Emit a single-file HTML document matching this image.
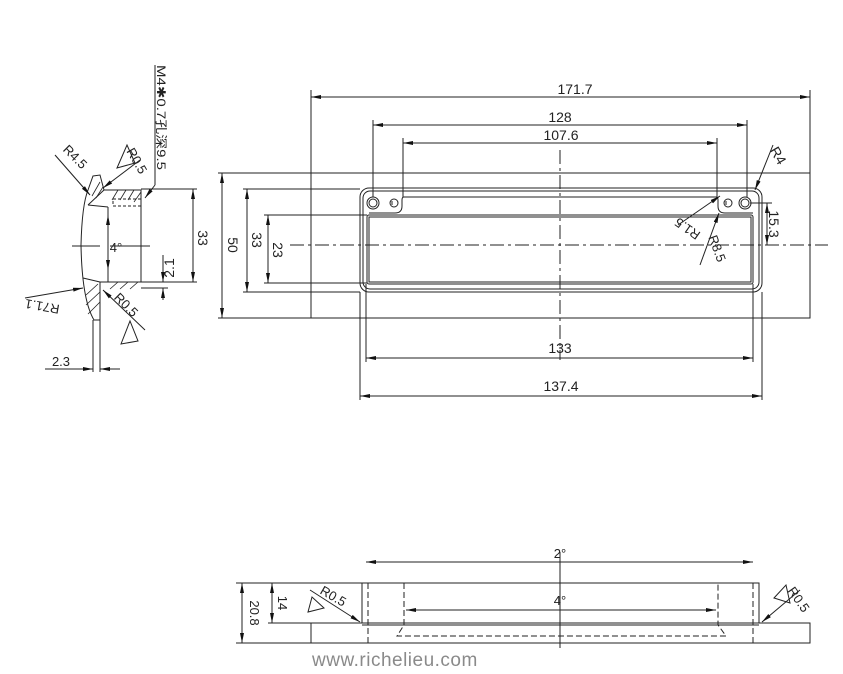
<!DOCTYPE html>
<html><head><meta charset="utf-8"><style>
html,body{margin:0;padding:0;background:#fff}
svg{display:block}
text{font-family:"Liberation Sans","Noto Sans CJK SC",sans-serif;fill:#222}
</style></head><body>
<svg width="843" height="674" viewBox="0 0 843 674" xmlns="http://www.w3.org/2000/svg">
<defs>
<marker id="a" viewBox="0 0 10 6" refX="10" refY="3" markerWidth="10" markerHeight="6" orient="auto-start-reverse" markerUnits="userSpaceOnUse"><path d="M0,1 L10,3 L0,5 z" fill="#111"/></marker>
</defs>
<g stroke="#222" stroke-width="1" fill="none">
<rect x="311" y="173" width="499" height="145"/>
<line x1="218" y1="173" x2="311" y2="173"/>
<line x1="218" y1="318" x2="311" y2="318"/>
<line x1="243" y1="189" x2="360" y2="189"/>
<line x1="243" y1="292" x2="360" y2="292"/>
<line x1="264" y1="215" x2="367" y2="215"/>
<line x1="264" y1="283" x2="367" y2="283"/>
<rect x="360" y="188" width="402" height="104" rx="9"/>
<rect x="363" y="191" width="396" height="98" rx="7"/>
<rect x="367" y="215" width="386" height="69" rx="2"/>
<rect x="369" y="217" width="382" height="65"/>
<path d="M404,197 L716,197"/>
<path d="M404,197 q-2,0 -2,3 v6 q0,7 -7,7 h-26"/>
<path d="M716,197 q2,0 2,3 v6 q0,7 7,7 h28"/>
<circle cx="373" cy="203" r="6"/><circle cx="373" cy="203" r="4"/>
<circle cx="394" cy="203" r="4"/><line x1="392" y1="201" x2="392" y2="205"/>
<circle cx="745" cy="203" r="6"/><circle cx="745" cy="203" r="4"/>
<circle cx="728" cy="203" r="4"/><line x1="726" y1="201" x2="726" y2="205"/>
<line x1="290" y1="245" x2="828" y2="245" stroke-dasharray="14,4,3,4"/>
<line x1="560" y1="150" x2="560" y2="360" stroke-dasharray="14,4,3,4"/>
<line x1="311" y1="90" x2="311" y2="173"/>
<line x1="810" y1="90" x2="810" y2="173"/>
<line x1="311" y1="97" x2="810" y2="97" marker-start="url(#a)" marker-end="url(#a)"/>
<line x1="373" y1="120" x2="373" y2="197"/>
<line x1="747" y1="120" x2="747" y2="197"/>
<line x1="373" y1="125" x2="747" y2="125" marker-start="url(#a)" marker-end="url(#a)"/>
<line x1="403" y1="138" x2="403" y2="197"/>
<line x1="717" y1="138" x2="717" y2="197"/>
<line x1="403" y1="143" x2="717" y2="143" marker-start="url(#a)" marker-end="url(#a)"/>
<line x1="366" y1="284" x2="366" y2="362"/>
<line x1="753" y1="284" x2="753" y2="362"/>
<line x1="366" y1="358" x2="753" y2="358" marker-start="url(#a)" marker-end="url(#a)"/>
<line x1="360" y1="292" x2="360" y2="400"/>
<line x1="762" y1="292" x2="762" y2="400"/>
<line x1="360" y1="396" x2="762" y2="396" marker-start="url(#a)" marker-end="url(#a)"/>
<line x1="222" y1="173" x2="222" y2="318" marker-start="url(#a)" marker-end="url(#a)"/>
<line x1="247" y1="189" x2="247" y2="292" marker-start="url(#a)" marker-end="url(#a)"/>
<line x1="268" y1="215" x2="268" y2="283" marker-start="url(#a)" marker-end="url(#a)"/>
<line x1="750" y1="203" x2="772" y2="203"/>
<line x1="767" y1="203" x2="767" y2="245" marker-start="url(#a)" marker-end="url(#a)"/>
<line x1="773" y1="145" x2="755" y2="190" marker-end="url(#a)"/>
<line x1="678" y1="225" x2="720" y2="196" marker-end="url(#a)"/>
<line x1="700" y1="265" x2="719" y2="213" marker-end="url(#a)"/>

<path d="M93,176 L100,175 L104,190 L141,190 L141,282 L100,282 L100,320 L94,320 Q82,300 81,245 Q82,205 88,190 Z"/>
<path d="M88,205 L104,190"/>
<line x1="88" y1="205" x2="108" y2="207"/>
<line x1="83" y1="278" x2="100" y2="282"/>
<line x1="108" y1="207" x2="108" y2="282"/>
<g stroke-width="0.8">
<line x1="92" y1="196" x2="100" y2="182"/><line x1="96" y1="198" x2="103" y2="187"/>
<line x1="112" y1="200" x2="118" y2="190"/><line x1="120" y1="200" x2="126" y2="190"/><line x1="128" y1="200" x2="134" y2="190"/><line x1="134" y1="202" x2="141" y2="192"/>
<line x1="86" y1="295" x2="98" y2="284"/><line x1="86" y1="305" x2="100" y2="292"/><line x1="88" y1="314" x2="100" y2="302"/><line x1="110" y1="289" x2="118" y2="282"/><line x1="120" y1="289" x2="128" y2="282"/><line x1="130" y1="289" x2="138" y2="282"/>
</g>
<rect x="113" y="199" width="28" height="7" stroke-dasharray="3,2"/>
<line x1="141" y1="189" x2="197" y2="189"/>
<line x1="141" y1="282" x2="197" y2="282"/>
<line x1="141" y1="288" x2="168" y2="288"/>
<line x1="193" y1="189" x2="193" y2="282" marker-start="url(#a)" marker-end="url(#a)"/>
<line x1="163" y1="255" x2="163" y2="282" marker-end="url(#a)"/>
<line x1="163" y1="300" x2="163" y2="288" marker-end="url(#a)"/>
<line x1="108" y1="215" x2="108" y2="270" marker-start="url(#a)" marker-end="url(#a)"/>
<line x1="72" y1="246" x2="100" y2="246"/><line x1="110" y1="246" x2="150" y2="246"/>
<line x1="155" y1="65" x2="155" y2="185"/><line x1="155" y1="185" x2="145" y2="198" marker-end="url(#a)"/>
<line x1="55" y1="155" x2="90" y2="195" marker-end="url(#a)"/>
<line x1="140" y1="160" x2="103" y2="188" marker-end="url(#a)"/>
<line x1="25" y1="298" x2="83" y2="288" marker-end="url(#a)"/>
<line x1="145" y1="330" x2="103" y2="290" marker-end="url(#a)"/>
<line x1="93" y1="320" x2="93" y2="372"/><line x1="100" y1="320" x2="100" y2="372"/>
<line x1="45" y1="369" x2="93" y2="369" marker-end="url(#a)"/>
<line x1="120" y1="369" x2="100" y2="369" marker-end="url(#a)"/>
<path d="M117,168 L127,145 L135,163 Z"/>
<path d="M121,344 L130,321 L138,341 Z"/>

<rect x="311" y="623" width="499" height="20"/>
<rect x="362" y="583" width="397" height="40" fill="#fff"/>
<line x1="362" y1="625" x2="759" y2="625"/>
<line x1="368" y1="583" x2="368" y2="643" stroke-dasharray="6,3"/>
<line x1="753" y1="583" x2="753" y2="643" stroke-dasharray="6,3"/>
<path d="M404,583 L404,625 L397,636 L726,636 L718,625 L718,583" stroke-dasharray="6,3"/>
<line x1="560" y1="552" x2="560" y2="648"/>
<line x1="366" y1="562" x2="753" y2="562" marker-start="url(#a)" marker-end="url(#a)"/>
<line x1="406" y1="610" x2="716" y2="610" marker-start="url(#a)" marker-end="url(#a)"/>
<line x1="236" y1="583" x2="362" y2="583"/>
<line x1="268" y1="623" x2="362" y2="623"/>
<line x1="242" y1="583" x2="242" y2="643" marker-start="url(#a)" marker-end="url(#a)"/>
<line x1="272" y1="583" x2="272" y2="623" marker-start="url(#a)" marker-end="url(#a)"/>
<line x1="236" y1="643" x2="311" y2="643"/>
<line x1="310" y1="590" x2="360" y2="622" marker-end="url(#a)"/>
<line x1="800" y1="590" x2="762" y2="622" marker-end="url(#a)"/>
<path d="M308,612 L312,597 L324,608 Z"/>
<path d="M774,598 L786,585 L790,603 Z"/>
</g>
<g font-size="14">
<text x="575" y="94" text-anchor="middle">171.7</text>
<text x="560" y="122" text-anchor="middle">128</text>
<text x="561" y="140" text-anchor="middle">107.6</text>
<text x="560" y="353" text-anchor="middle">133</text>
<text x="561" y="391" text-anchor="middle">137.4</text>
<text transform="translate(228,245) rotate(90)" text-anchor="middle">50</text>
<text transform="translate(252,240) rotate(90)" text-anchor="middle">33</text>
<text transform="translate(273,250) rotate(90)" text-anchor="middle">23</text>
<text transform="translate(198,238) rotate(90)" text-anchor="middle">33</text>
<text transform="translate(174,268) rotate(-90)" text-anchor="middle">2.1</text>
<text x="116" y="252" text-anchor="middle" font-size="13">4°</text>
<text transform="translate(769,224) rotate(90)" text-anchor="middle">15.3</text>
<text transform="translate(774,158) rotate(60)" text-anchor="middle">R4</text>
<text transform="translate(690,225) rotate(-145)" text-anchor="middle" font-size="13">R1.5</text>
<text transform="translate(713,250) rotate(70)" text-anchor="middle" font-size="13">R8.5</text>
<text transform="translate(157,65) rotate(90)" font-size="12" textLength="105" lengthAdjust="spacingAndGlyphs">M4✱0.7孔深9.5</text>
<text transform="translate(72,160) rotate(45)" text-anchor="middle" font-size="13">R4.5</text>
<text transform="translate(133,163) rotate(60)" text-anchor="middle" font-size="13">R0.5</text>
<text transform="translate(43,302) rotate(190)" text-anchor="middle" font-size="13">R71.1</text>
<text transform="translate(123,308) rotate(45)" text-anchor="middle" font-size="13">R0.5</text>
<text x="61" y="366" text-anchor="middle" font-size="13">2.3</text>
<text x="560" y="558" text-anchor="middle" font-size="13">2°</text>
<text x="560" y="605" text-anchor="middle" font-size="13">4°</text>
<text transform="translate(250,613) rotate(90)" text-anchor="middle" font-size="13">20.8</text>
<text transform="translate(278,603) rotate(90)" text-anchor="middle" font-size="13">14</text>
<text transform="translate(331,600) rotate(30)" text-anchor="middle" font-size="13">R0.5</text>
<text transform="translate(795,602) rotate(55)" text-anchor="middle" font-size="13">R0.5</text>
</g>
<text x="312" y="666" font-size="19" style="fill:#8a8a8a" letter-spacing="0.5">www.richelieu.com</text>
</svg>
</body></html>
